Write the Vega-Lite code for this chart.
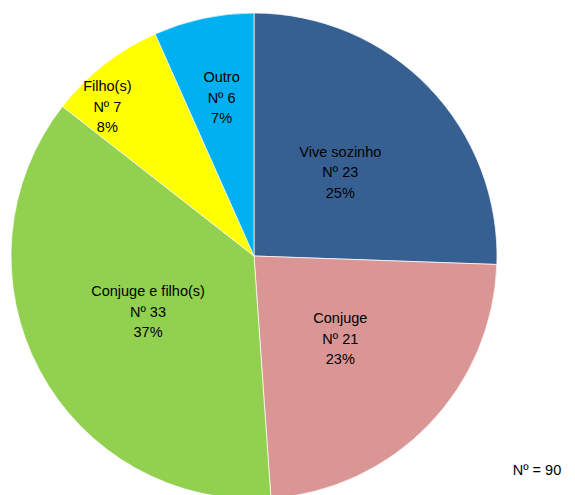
{
  "$schema": "https://vega.github.io/schema/vega-lite/v6.json",
  "width": 508,
  "height": 512,
  "autosize": {"type": "none"},
  "padding": {"left": 0, "top": 0, "right": 67, "bottom": 0},
  "background": "white",
  "view": {"stroke": null},
  "data": {
    "values": [
      {"cat": "Vive sozinho", "n": 23, "pct": 25, "ord": 1},
      {"cat": "Conjuge", "n": 21, "pct": 23, "ord": 2},
      {"cat": "Conjuge e filho(s)", "n": 33, "pct": 37, "ord": 3},
      {"cat": "Filho(s)", "n": 7, "pct": 8, "ord": 4},
      {"cat": "Outro", "n": 6, "pct": 7, "ord": 5}
    ]
  },
  "transform": [
    {"stack": "n", "groupby": [], "sort": [{"field": "ord", "order": "ascending"}], "as": ["t0", "t1"]},
    {"calculate": "(datum.t0 + datum.t1) / 2", "as": "tm"},
    {"calculate": "[datum.cat, 'Nº ' + datum.n, datum.pct + '%']", "as": "label"}
  ],
  "layer": [
    {
      "mark": {"type": "arc", "outerRadius": 243, "stroke": "white", "strokeWidth": 0.7},
      "encoding": {
        "theta": {"field": "t0", "type": "quantitative", "scale": {"domain": [0, 90]}},
        "theta2": {"field": "t1"},
        "color": {
          "field": "cat",
          "type": "nominal",
          "scale": {
            "domain": ["Vive sozinho", "Conjuge", "Conjuge e filho(s)", "Filho(s)", "Outro"],
            "range": ["#376092", "#D99694", "#92D050", "#FFFF00", "#00B0F0"]
          },
          "legend": null
        }
      }
    },
    {
      "transform": [{"filter": "datum.n > 10"}],
      "mark": {"type": "text", "radius": 120, "dy": -20, "font": "Liberation Sans", "fontSize": 14.5, "lineHeight": 20.5, "baseline": "middle", "align": "center", "color": "#000000"},
      "encoding": {
        "theta": {"field": "tm", "type": "quantitative", "scale": {"domain": [0, 90]}},
        "text": {"field": "label"}
      }
    },
    {
      "transform": [{"filter": "datum.cat == 'Filho(s)'"}],
      "mark": {"type": "text", "radius": 209, "dx": -18, "dy": -4, "font": "Liberation Sans", "fontSize": 14.5, "lineHeight": 20.5, "baseline": "middle", "align": "center", "color": "#000000"},
      "encoding": {
        "theta": {"field": "tm", "type": "quantitative", "scale": {"domain": [0, 90]}},
        "text": {"field": "label"}
      }
    },
    {
      "transform": [{"filter": "datum.cat == 'Outro'"}],
      "mark": {"type": "text", "radius": 156, "dy": -25, "font": "Liberation Sans", "fontSize": 14.5, "lineHeight": 20.5, "baseline": "middle", "align": "center", "color": "#000000"},
      "encoding": {
        "theta": {"field": "tm", "type": "quantitative", "scale": {"domain": [0, 90]}},
        "text": {"field": "label"}
      }
    },
    {
      "data": {"values": [{"note": "Nº = 90"}]},
      "transform": [],
      "mark": {"type": "text", "x": 537, "y": 471, "font": "Liberation Sans", "fontSize": 14.5, "baseline": "middle", "align": "center", "color": "#000000"},
      "encoding": {"text": {"field": "note"}}
    }
  ]
}
